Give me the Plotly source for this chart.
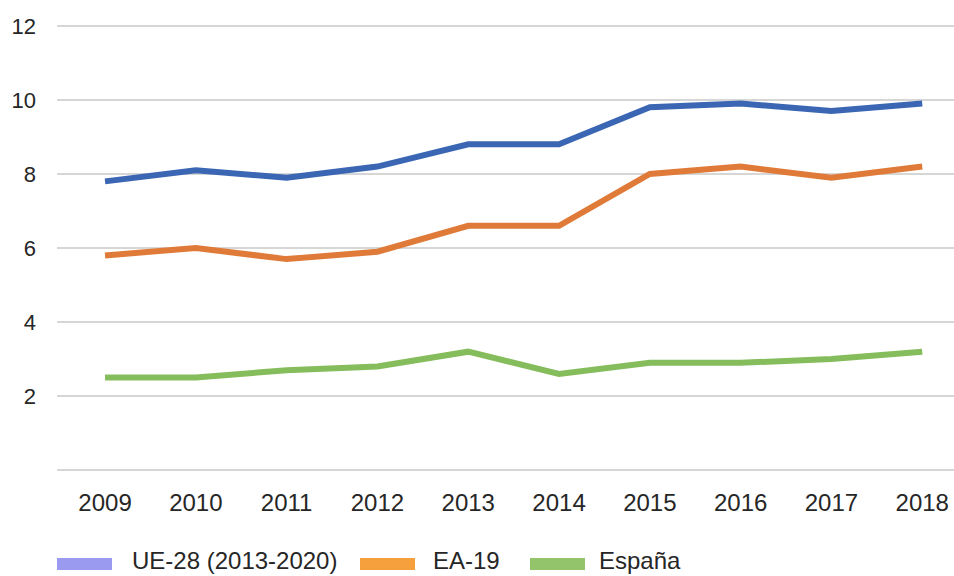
import plotly.graph_objects as go

# Years on the horizontal axis
years = [2009, 2010, 2011, 2012, 2013, 2014, 2015, 2016, 2017, 2018]

# Series values
ue28 = [7.8, 8.1, 7.9, 8.2, 8.8, 8.8, 9.8, 9.9, 9.7, 9.9]
ea19 = [5.8, 6.0, 5.7, 5.9, 6.6, 6.6, 8.0, 8.2, 7.9, 8.2]
espana = [2.5, 2.5, 2.7, 2.8, 3.2, 2.6, 2.9, 2.9, 3.0, 3.2]

# Y axis ticks (zero gridline kept, label left blank)
y_ticks = [0, 2, 4, 6, 8, 10, 12]
y_ticktext = ["", "2", "4", "6", "8", "10", "12"]

names = ["UE-28 (2013-2020)", "EA-19", "España"]
line_colors = ["#3b66b3", "#e07a38", "#86bd5c"]
key_colors = ["#9a9af0", "#f5a03c", "#93c46c"]

FONT = "Liberation Sans, Arial, sans-serif"
TEXT = "#262626"

# Plot-area geometry (pixels) used to place the custom legend
W, H = 954, 576
L, R, T, B = 57, 0, 24, 104
PW, PH = W - L - R, H - T - B


def px_x(px):
    return (px - L) / PW


def px_y(py):
    return (H - B - py) / PH


fig = go.Figure()
for name, vals, col in zip(names, [ue28, ea19, espana], line_colors):
    fig.add_trace(go.Scatter(
        x=years, y=vals, mode="lines", name=name, showlegend=False,
        line=dict(color=col, width=6),
    ))

# Legend: wide rectangular keys followed by labels
key_x = [(57, 112), (360, 415), (530, 585)]
label_x = [131, 432, 598]
key_y = (558, 570)
shapes, annotations = [], []
for (x0, x1), lx, name, col in zip(key_x, label_x, names, key_colors):
    shapes.append(dict(
        type="rect", xref="paper", yref="paper",
        x0=px_x(x0), x1=px_x(x1), y0=px_y(key_y[1]), y1=px_y(key_y[0]),
        fillcolor=col, line=dict(width=0), layer="above",
    ))
    annotations.append(dict(
        xref="paper", yref="paper", x=px_x(lx), y=px_y(560),
        xanchor="left", yanchor="middle", text=name, showarrow=False,
        font=dict(family=FONT, size=24, color=TEXT), borderpad=0,
    ))

fig.update_layout(
    width=W, height=H,
    margin=dict(l=L, r=R, t=T, b=B),
    plot_bgcolor="white", paper_bgcolor="white",
    showlegend=False,
    xaxis=dict(
        range=[2008.471, 2018.35], tickvals=years,
        ticktext=[str(y) for y in years],
        showgrid=False, zeroline=False, showline=False,
        tickfont=dict(family=FONT, size=24, color=TEXT),
        ticks="", ticklabelstandoff=14,
    ),
    yaxis=dict(
        range=[-0.05, 12.05], tickvals=y_ticks, ticktext=y_ticktext,
        showgrid=True, gridcolor="#d6d6d6", gridwidth=2,
        zeroline=False, showline=False,
        tickfont=dict(family=FONT, size=22, color=TEXT),
        ticks="", ticklabelstandoff=20,
    ),
    shapes=shapes,
    annotations=annotations,
)

fig.write_html("out.html")
